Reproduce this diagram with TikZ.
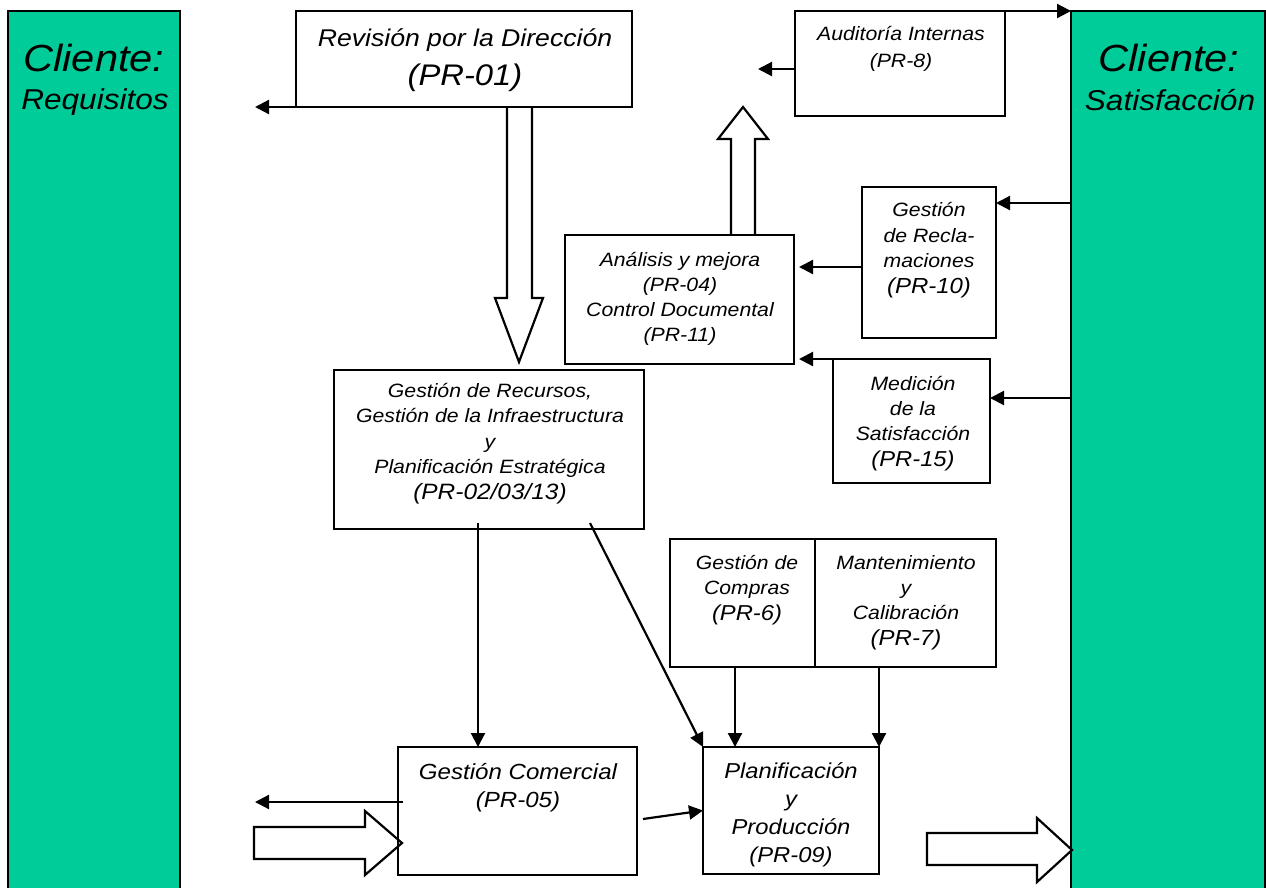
\documentclass[tikz,border=0pt]{standalone}
\usepackage{fontspec}
\setmainfont{Liberation Sans}[FakeStretch=1.1]
\usetikzlibrary{arrows.meta,calc}
\definecolor{gr}{RGB}{0,204,153}
\newcommand\fsz[2]{\fontsize{#1}{#2}\selectfont\itshape}
\begin{document}
\begin{tikzpicture}[x=1pt,y=-1pt,
  box/.style={draw, line width=2.2pt, rectangle, inner sep=0pt, outer sep=0pt},
  client/.style={box, fill=gr},
  txt/.style={align=center, anchor=base, inner sep=0pt},
  arr/.style={line width=2.2pt, -{Triangle[length=14pt,width=14pt]}},
  hollow/.style={draw, line width=2.2pt, fill=white, line join=miter}]
\useasboundingbox (0,0) rectangle (1266,887);
\clip (0,0) rectangle (1266,887);
\fill[white] (0,0) rectangle (1266,887);

% client columns
\node[client, minimum width=172pt, minimum height=889pt] (gL) at (94,455.5) {};
\node[client, minimum width=194pt, minimum height=889pt] (gR) at (1168,455.5) {};
\node[txt, font=\fsz{37.8}{38}] (gL1) at (94,71) {Cliente:};
\node[txt, font=\fsz{28.7}{29}] (gL2) at (95,109) {Requisitos};
\node[txt, font=\fsz{37.8}{38}] (gR1) at (1169,71) {Cliente:};
\node[txt, font=\fsz{28.7}{29}] (gR2) at (1170,110) {Satisfacción};

% hollow block arrows
\draw[hollow] (507,107) -- (507,298) -- (495,298) -- (519,362) -- (543,298) -- (532,298) -- (532,107);
\draw[hollow] (731,235) -- (731,139) -- (718,139) -- (743,107) -- (768,139) -- (755,139) -- (755,235);
\draw[hollow] (254,827) -- (365,827) -- (365,811) -- (402,843) -- (365,875) -- (365,859) -- (254,859) -- cycle;
\draw[hollow] (927,833) -- (1037,833) -- (1037,818) -- (1072,850) -- (1037,882) -- (1037,865) -- (927,865) -- cycle;

% process boxes
\node[box, minimum width=336pt, minimum height=96pt] (rev) at (464,59) {};
\node[box, minimum width=210pt, minimum height=105pt] (aud) at (900,63.5) {};
\node[box, minimum width=229pt, minimum height=129pt] (ana) at (679.5,299.5) {};
\node[box, minimum width=134pt, minimum height=151pt] (rec) at (929,262.5) {};
\node[box, minimum width=157pt, minimum height=124pt] (med) at (911.5,421) {};
\node[box, minimum width=310pt, minimum height=159pt] (res) at (489,449.5) {};
\node[box, minimum width=145pt, minimum height=128pt] (com) at (742.5,603) {};
\node[box, minimum width=181pt, minimum height=128pt] (man) at (905.5,603) {};
\node[box, minimum width=239pt, minimum height=128pt] (gco) at (517.5,811) {};
\node[box, minimum width=176pt, minimum height=127pt] (pla) at (791,810.5) {};

% texts (anchor = baseline of the last line)
\node[txt, font=\fsz{24.2}{39}] (revt) at (465,85) {Revisión por la Dirección\\{\fsz{29.8}{39}(PR-01)}};
\node[txt, font=\fsz{19.3}{27}] (audt) at (901,67) {Auditoría Internas\\(PR-8)};
\node[txt, font=\fsz{19.3}{25}] (anat) at (680,341) {Análisis y mejora\\(PR-04)\\Control Documental\\(PR-11)};
\node[txt, font=\fsz{19.3}{25.5}] (rect) at (929,293) {Gestión\\de Recla-\\maciones\\{\fsz{21.8}{25.5}(PR-10)}};
\node[txt, font=\fsz{19.3}{25.3}] (medt) at (913,466) {Medición\\de la\\Satisfacción\\{\fsz{21.6}{25.3}(PR-15)}};
\node[txt, font=\fsz{19.3}{25.5}] (rest) at (490,499) {Gestión de Recursos,\\Gestión de la Infraestructura\\y\\Planificación Estratégica\\{\fsz{22.2}{25.5}(PR-02/03/13)}};
\node[txt, font=\fsz{19.2}{25.5}] (comt) at (747,620) {Gestión de\\Compras\\{\fsz{21.6}{25.5}(PR-6)}};
\node[txt, font=\fsz{19.3}{25.3}] (mant) at (906,645) {Mantenimiento\\y\\Calibración\\{\fsz{21.8}{25.3}(PR-7)}};
\node[txt, font=\fsz{21.9}{28}] (gcot) at (518,807) {Gestión Comercial\\(PR-05)};
\node[txt, font=\fsz{21.6}{27.7}] (plat) at (791,862) {Planificación\\y\\Producción\\(PR-09)};

% helper coordinates
\coordinate (revL) at (255,107);
\coordinate (audL) at (758,69);
\coordinate (r1) at (0,203);
\coordinate (r2) at (0,398);
\coordinate (r3) at (0,267);
\coordinate (c478) at (478,0);
\coordinate (c590) at (590,0);
\coordinate (c735) at (735,0);
\coordinate (gcoL) at (255,802);

% connectors
\draw[arr] ([xshift=-29pt]rev.south) -- (revL);
\draw[arr] (aud.west |- audL) -- (audL);
\draw[arr] ([xshift=-18pt]aud.north east) -- (gR.north west);
\draw[arr] (gR.west |- r1) -- (rec.east |- r1);
\draw[arr] (gR.west |- r2) -- (med.east |- r2);
\draw[arr] (rec.west |- r3) -- ($(ana.east |- r3)+(5,0)$);
\draw[arr] ([xshift=32pt]med.north west) -- ($(ana.east |- med.north)+(5,0)$);
\draw[arr] ($(res.south -| c478)+(0,-6)$) -- (gco.north -| c478);
\draw[arr] ($(res.south -| c590)+(0,-6)$) -- (pla.north west);
\draw[arr] (com.south -| c735) -- (pla.north -| c735);
\draw[arr] (man.south -| pla.north east) -- (pla.north east);
\draw[arr] ($(gco.west |- gcoL)+(5,0)$) -- (gcoL);
\draw[arr] ($(gco.east)+(6,8)$) -- (pla.west);
\end{tikzpicture}
\end{document}
